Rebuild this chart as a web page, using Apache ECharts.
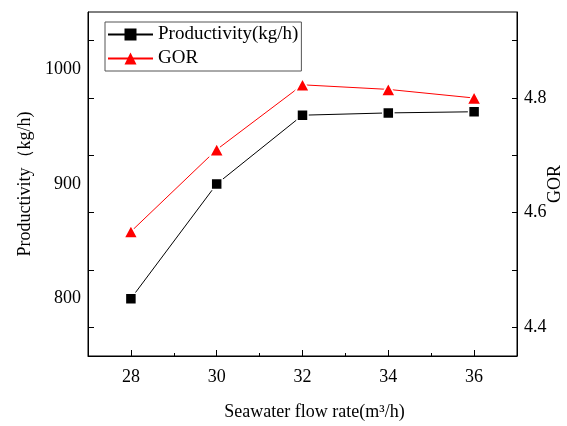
<!DOCTYPE html>
<html>
<head>
<meta charset="utf-8">
<script src="https://cdn.jsdelivr.net/npm/echarts@6/dist/echarts.min.js"></script>
<style>
    html, body { margin: 0; padding: 0; background: #fff; }
    #chart { width: 567px; height: 426px; }
</style>
</head>
<body>
<div id="chart"></div>
<script>
// flow rate (m3/h)
var flow_rate = [28, 30, 32, 34, 36];
var productivity = [800, 900, 960, 962, 963];
var gor = [4.567, 4.71, 4.823, 4.815, 4.80];

var x_major_ticks = [28, 30, 32, 34, 36];
var x_minor_ticks = [29, 31, 33, 35];
var left_labels = [800, 900, 1000];
var left_ticks = [775, 825, 875, 925, 975, 1025];
var right_labels = [4.4, 4.6, 4.8];
var right_ticks = [4.4, 4.5, 4.6, 4.7, 4.8, 4.9];

var FONT = "'Liberation Serif', 'Times New Roman', serif";

var CHART = {
    init: function(){
        var _this = this;
        var myChart = echarts.init(document.getElementById("chart"));
        myChart.setOption(_this.init_option());
    },
    pairs: function(xs, ys){
        var out = [];
        for (var i = 0; i < xs.length; i++) out.push([xs[i], ys[i]]);
        return out;
    },
    init_option: function(){
        var _this = this;
        var label_style = { fontFamily: FONT, fontSize: 18, color: "#000" };
        return {
            animation: false,
            grid: {
                left: 88, right: 50, top: 12, bottom: 70,
                outerBoundsMode: "none",
                containLabel: false,
                show: true, borderColor: "#000", borderWidth: 1
            },
            legend: {
                orient: "vertical",
                left: 105, top: 22,
                padding: [3, 3, 3, 2],
                itemGap: 5,
                itemWidth: 45,
                itemHeight: 15,
                borderColor: "#555",
                borderWidth: 1,
                itemStyle: { borderWidth: 0 },
                textStyle: { fontFamily: FONT, fontSize: 19, color: "#000" },
                data: ["Productivity(kg/h)", "GOR"]
            },
            xAxis: [
                {
                    type: "value",
                    min: 27, max: 37,
                    position: "bottom",
                    name: "Seawater flow rate(m\u00b3/h)",
                    nameLocation: "middle",
                    nameGap: 47,
                    nameMoveOverlap: false,
                    nameTextStyle: { fontFamily: FONT, fontSize: 18, color: "#000", padding: [0, 0, 0, 24] },
                    axisLine: { lineStyle: { color: "#000", width: 1 } },
                    axisTick: { inside: true, length: 6, customValues: x_major_ticks, lineStyle: { color: "#000" } },
                    axisLabel: { customValues: x_major_ticks, margin: 12, fontFamily: FONT, fontSize: 18, color: "#000" },
                    splitLine: { show: false }
                },
                {
                    type: "value",
                    min: 27, max: 37,
                    position: "bottom",
                    axisLine: { show: false },
                    axisTick: { inside: true, length: 3, customValues: x_minor_ticks, lineStyle: { color: "#000" } },
                    axisLabel: { show: false },
                    splitLine: { show: false }
                }
            ],
            yAxis: [
                {
                    type: "value",
                    min: 750, max: 1050,
                    position: "left",
                    name: "Productivity\uff08kg/h)",
                    nameLocation: "middle",
                    nameGap: 54,
                    nameMoveOverlap: false,
                    nameTextStyle: label_style,
                    axisLine: { show: true, lineStyle: { color: "#000", width: 1 } },
                    axisTick: { show: true, inside: true, length: 6, customValues: left_ticks, lineStyle: { color: "#000" } },
                    axisLabel: {
                        customValues: left_labels, margin: 7,
                        fontFamily: FONT, fontSize: 18, color: "#000",
                        formatter: function(v){ return String(v); }
                    },
                    splitLine: { show: false }
                },
                {
                    type: "value",
                    min: 4.35, max: 4.95,
                    position: "right",
                    name: "GOR",
                    nameLocation: "middle",
                    nameGap: 29,
                    nameMoveOverlap: false,
                    nameTextStyle: label_style,
                    axisLine: { show: true, lineStyle: { color: "#000", width: 1 } },
                    axisTick: { show: true, inside: true, length: 5, customValues: right_ticks, lineStyle: { color: "#000" } },
                    axisLabel: {
                        customValues: right_labels, margin: 7,
                        fontFamily: FONT, fontSize: 18, color: "#000",
                        formatter: function(v){ return v.toFixed(1); }
                    },
                    splitLine: { show: false }
                }
            ],
            series: [
                {
                    name: "Productivity(kg/h)",
                    type: "line",
                    xAxisIndex: 0,
                    yAxisIndex: 0,
                    data: _this.pairs(flow_rate, productivity),
                    symbol: "rect",
                    symbolSize: 11,
                    lineStyle: { color: "#000", width: 1 },
                    itemStyle: { color: "#000", borderColor: "#fff", borderWidth: 1.5 }
                },
                {
                    name: "GOR",
                    type: "line",
                    xAxisIndex: 0,
                    yAxisIndex: 1,
                    data: _this.pairs(flow_rate, gor),
                    symbol: "triangle",
                    symbolSize: [14, 13],
                    lineStyle: { color: "#f00", width: 1 },
                    itemStyle: { color: "#f00", borderColor: "#fff", borderWidth: 1.5 }
                }
            ]
        };
    }
};

CHART.init();
</script>
</body>
</html>
